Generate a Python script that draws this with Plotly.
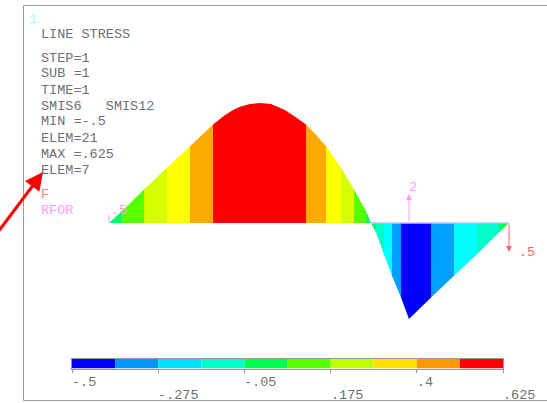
import numpy as np
import plotly.graph_objects as go

W, H = 547, 403

# Beam stress diagram
position = [0, .13, .35, .58, .81, 1.04, 1.16, 1.24, 1.31, 1.41, 1.51, 1.62, 1.76, 1.88, 1.97,
            2.07, 2.17, 2.32, 2.45, 2.57, 2.62, 2.67, 2.75, 2.83, 2.92, 3.0,
            3.22, 3.45, 3.68, 3.90, 4.0]
stress = [0, .0625, .175, .2875, .4, .5125, .562, .589, .605, .62, .625, .62, .588, .547, .5125,
          .46, .4, .2875, .175, .0625, 0, -.05, -.1625, -.275, -.3875, -.5,
          -.3875, -.275, -.1625, -.05, 0]
band_edges = [-.5, -.3875, -.275, -.1625, -.05, .0625, .175, .2875, .4, .5125, .625]
band_colors = ["#0000ff", "#00a0ff", "#00ffff", "#00ffc8", "#00ff60",
               "#55ff00", "#d4ff00", "#ffff00", "#ffaa00", "#ff0000"]
bar_colors = ["#0000ff", "#0095ff", "#00e0ff", "#00ffc8", "#00ff55",
              "#55ff00", "#c0ff00", "#ffe000", "#ff9900", "#ff0000"]
bar_tick_values = [-.5, -.275, -.05, .175, .4, .625]
bar_tick_labels = ["-.5", "-.275", "-.05", ".175", ".4", ".625"]
title_lines = ["LINE STRESS", "STEP=1", "SUB =1", "TIME=1", "SMIS6   SMIS12",
               "MIN =-.5", "ELEM=21", "MAX =.625", "ELEM=7"]
load_position = [3.0, 4.0]
load_value = [.151, -.151]
load_text = ["2", ".5"]
load_color = ["#ff99ff", "#ff6666"]

GRAY = "#707070"
MONO = "Liberation Mono"
INK = "#999999"


def px(x):
    return x / W


def py(y):
    return 1 - y / H


x = np.array(position)
y = np.array(stress)
mids = (y[:-1] + y[1:]) / 2
bands = np.clip(np.digitize(mids, band_edges) - 1, 0, 9)

fig = go.Figure()
start = 0
for i in range(1, len(bands) + 1):
    if i == len(bands) or bands[i] != bands[start]:
        fig.add_trace(go.Scatter(x=x[start:i + 1], y=y[start:i + 1], mode="lines",
                                 line=dict(width=0, color=band_colors[bands[start]]),
                                 fill="tozeroy", fillcolor=band_colors[bands[start]],
                                 hoverinfo="skip", showlegend=False))
        start = i

fig.add_trace(go.Scatter(x=x[20:], y=0 * x[20:], mode="lines",
                         line=dict(width=1.5, color="#c8b8ff"),
                         hoverinfo="skip", showlegend=False))
fig.add_trace(go.Scatter(x=[0, 0], y=[0, .042], mode="lines",
                         line=dict(width=1, color="#ff99ff"),
                         hoverinfo="skip", showlegend=False))

lo = np.array(band_edges[:-1])
hi = np.array(band_edges[1:])
fig.add_trace(go.Bar(y=[0] * 10, x=hi - lo, base=lo, orientation="h", width=1,
                     marker=dict(color=bar_colors, line=dict(width=0)),
                     xaxis="x2", yaxis="y2", hoverinfo="skip", showlegend=False))

annotations = []
ann = lambda text, xx, yy, color=GRAY, size=13.5: annotations.append(dict(
    text=text, x=px(xx), y=py(yy), xref="paper", yref="paper", xanchor="left", yanchor="middle",
    showarrow=False, font=dict(family=MONO, size=size, color=color)))

ann("1", 27, 19, "#99ffff")
for text, yy in zip(title_lines, [34, 58, 74, 90, 106, 122, 138, 154, 170]):
    ann(text.replace(" ", "\u00a0"), 39, yy)
ann("F", 39, 194, "#ff8080")
ann("RFOR", 39, 210, "#ff99ff")
ann(".5", 109, 211, "#ff99ff", 13.5)

for i, (val, label) in enumerate(zip(bar_tick_values, bar_tick_labels)):
    annotations.append(dict(text=label, x=val, xref="x2", y=py(382 if i % 2 == 0 else 395), yref="paper",
                            xanchor="left", yanchor="middle", showarrow=False, xshift=-2,
                            font=dict(family=MONO, size=13.5, color=GRAY)))

for xx, val, text, color in zip(load_position, load_value, load_text, load_color):
    annotations.append(dict(x=xx, y=val, ax=xx, ay=0, xref="x", yref="y", axref="x", ayref="y",
                            text="", showarrow=True, arrowhead=2, arrowsize=1.2, arrowwidth=1,
                            arrowcolor=color))
ann(load_text[0], 407, 187, load_color[0])
ann(load_text[1], 517, 252, load_color[1])

annotations.append(dict(x=-.66, y=.2656, ax=-1.11, ay=-.047, xref="x", yref="y",
                        axref="x", ayref="y", text="", showarrow=True, arrowhead=2,
                        arrowsize=1.2, arrowwidth=3, arrowcolor="#ff0000"))

fig.update_layout(
    width=W, height=H, autosize=False, margin=dict(l=0, r=0, t=0, b=0),
    paper_bgcolor="white", plot_bgcolor="rgba(0,0,0,0)", showlegend=False,
    xaxis=dict(range=[-1.09, 4.38], domain=[0, 1], visible=False, fixedrange=True),
    yaxis=dict(range=[-180 / 192, 223 / 192], domain=[0, 1], visible=False, fixedrange=True),
    xaxis2=dict(range=[-.5, .625], domain=[px(72), px(503)], anchor="y2", tickmode="array",
                tickvals=bar_tick_values, ticktext=bar_tick_labels, showticklabels=False,
                ticks="outside", ticklen=3, tickcolor=INK, showgrid=False, zeroline=False,
                showline=True, linecolor=INK, mirror=True, fixedrange=True),
    yaxis2=dict(range=[-.5, .5], domain=[py(368.5), py(358.5)], anchor="x2", visible=True,
                showticklabels=False, ticks="", showgrid=False, zeroline=False,
                showline=True, linecolor=INK, mirror=True, fixedrange=True),
    annotations=annotations,
    shapes=[dict(type="rect", xref="paper", yref="paper", x0=px(23.5), x1=px(560), y0=py(400.5), y1=py(5.5),
                 line=dict(color="#999999", width=1))],
)
fig.write_html("out.html", config={"displayModeBar": False},
               post_script="document.body.style.margin='0';document.documentElement.style.overflow='hidden';")
